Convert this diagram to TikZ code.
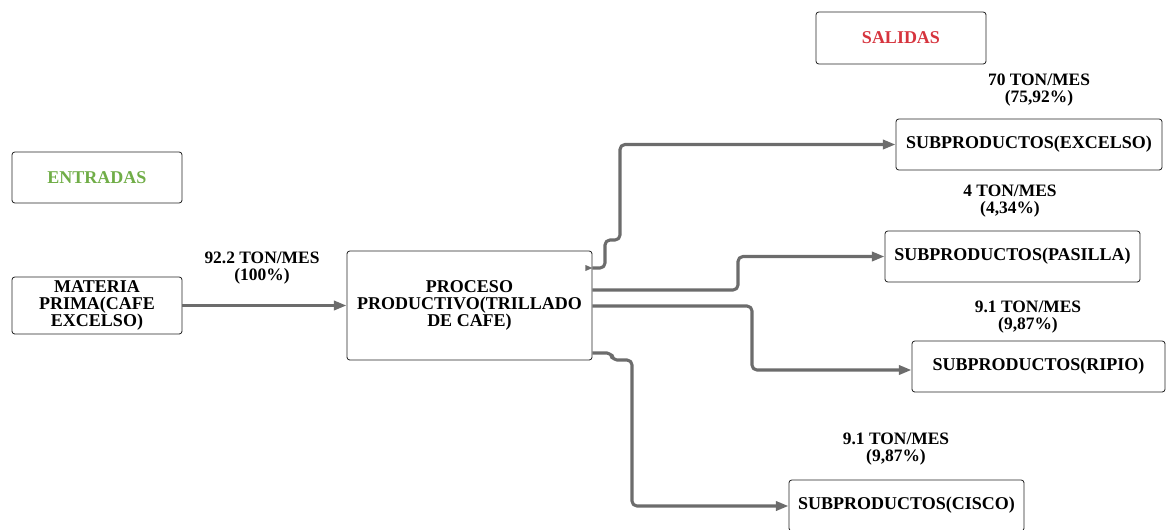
\documentclass[tikz,border=0pt]{standalone}
\usepackage{fontspec}
\setmainfont{Liberation Serif}
\usetikzlibrary{arrows.meta, positioning}
\definecolor{entradas_green}{RGB}{112,173,71}
\definecolor{salidas_red}{RGB}{214,52,62}
\definecolor{flow_gray}{RGB}{108,108,108}
\tikzset{
  caja/.style={draw=black!85, line width=0.6pt, rounded corners=2pt, align=center,
    inner sep=0pt, font=\bfseries\fontsize{12.8}{11.8}\selectfont},
  dato/.style={align=center, inner sep=0pt, font=\bfseries\fontsize{12.4}{12.6}\selectfont},
  flujo/.style={draw=flow_gray, line width=2.2pt, rounded corners=3.5pt,
    -{Triangle[length=9pt,width=6.5pt]}}
}

\begin{document}
\begin{tikzpicture}[x=0.025cm, y=-0.025cm, line join=round]
	\useasboundingbox (0,0) rectangle (1166,529);

	% titulos
	\node[caja, minimum width=4.25cm, minimum height=1.275cm, text=entradas_green] (entradas) at (97,177.5) {ENTRADAS};
	\node[caja, minimum width=4.25cm, minimum height=1.3cm, text=salidas_red] (salidas) at (901,38) {SALIDAS};

	% proceso
	\node[caja, minimum width=4.25cm, minimum height=1.425cm] (materia) at (97,305.5) {MATERIA\\PRIMA(CAFE\\EXCELSO)};
	\node[caja, minimum width=6.125cm, minimum height=2.725cm] (proceso) at (469.5,305.5) {PROCESO\\PRODUCTIVO(TRILLADO\\DE CAFE)};

	% salidas
	\node[caja, minimum width=6.65cm, minimum height=1.275cm] (excelso) at (1029,144.5) {SUBPRODUCTOS(EXCELSO)};
	\node[caja, minimum width=6.375cm, minimum height=1.275cm] (pasilla) at (1012.5,256.5) {SUBPRODUCTOS(PASILLA)};
	\node[caja, minimum width=6.325cm, minimum height=1.275cm] (ripio) at (1038.5,366.5) {SUBPRODUCTOS(RIPIO)};
	\node[caja, minimum width=5.875cm, minimum height=1.275cm] (cisco) at (906.5,505.5) {SUBPRODUCTOS(CISCO)};

	% cantidades
	\node[dato] (d_materia) at (262,268) {92.2 TON/MES\\(100\%)};
	\node[dato] (d_excelso) at (1039,90) {70 TON/MES\\(75,92\%)};
	\node[dato] (d_pasilla) at (1010,201) {4 TON/MES\\(4,34\%)};
	\node[dato] (d_ripio) at (1028,317) {9.1 TON/MES\\(9,87\%)};
	\node[dato] (d_cisco) at (896,449) {9.1 TON/MES\\(9,87\%)};

	% flujos
	\draw[flujo] (materia.east) -- (proceso.west);
	\draw[flujo] (proceso.east |- 0,268) -- (605,268) -- (605,240) -- (620,240) -- (620,144.5) -- (excelso.west);
	\fill[flow_gray] (proceso.east |- 0,268) -- ++(-7,-3) -- ++(0,6) -- cycle;
	\draw[flujo] (proceso.east |- 0,290) -- (738,290) -- (738,256.5) -- (pasilla.west);
	\draw[flujo] (proceso.east |- 0,306) -- (752,306) -- (752,370) -- (ripio.west |- 0,370);
	\draw[flujo] (proceso.east |- 0,353) -- (612,353) -- (612,360) -- (632,360) -- (632,506) -- (cisco.west |- 0,506);
\end{tikzpicture}
\end{document}
